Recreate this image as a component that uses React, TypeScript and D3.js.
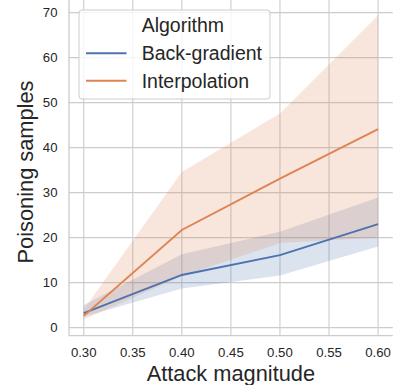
import React from "react";
import * as d3 from "d3";

// attack magnitude on x, poisoning samples on y
const attack = [0.3, 0.4, 0.5, 0.6];
const backGradMean = [3.2, 11.7, 16.1, 23.0];
const backGradLow = [2.4, 8.7, 11.6, 18.0];
const backGradHigh = [5.0, 16.3, 21.3, 28.9];
const interpMean = [2.6, 21.7, 33.1, 44.1];
const interpLow = [1.8, 11.4, 18.8, 20.0];
const interpHigh = [4.0, 34.6, 47.6, 69.4];

const xTicks = [0.3, 0.35, 0.4, 0.45, 0.5, 0.55, 0.6];
const yTicks = [0, 10, 20, 30, 40, 50, 60, 70];
const legendTitle = "Algorithm";
const seriesNames = ["Back-gradient", "Interpolation"];

const W = 395;
const H = 385;
const FONT = "'Liberation Sans', Arial, sans-serif";
const TEXT = "#262626";
const GRID = "#cccccc";
const colors = ["#4c72b0", "#dd8452"];

const App = () => {
  const left = 69;
  const right = 392.8;
  const top = 0;
  const bottom = 335.7;

  const x = d3.scaleLinear().domain([0.285, 0.615]).range([left, right]);
  const y = d3.scaleLinear().domain([-1.8, 72.8]).range([bottom, top]);

  const series = [
    { mean: backGradMean, low: backGradLow, high: backGradHigh },
    { mean: interpMean, low: interpLow, high: interpHigh },
  ];

  const line = d3.line<number>()
    .x((_, i) => x(attack[i]))
    .y(d => y(d));

  const band = (low: number[], high: number[]) =>
    d3.area<number>()
      .x((_, i) => x(attack[i]))
      .y0((_, i) => y(low[i]))
      .y1((_, i) => y(high[i]))(attack);

  return (
    <svg width={W} height={H} style={{ position: "absolute", left: 0, top: 0 }}>
      <rect width={W} height={H} fill="#fff" />
      {/* grid */}
      {xTicks.map(t => (
        <line key={"gx" + t} x1={x(t)} x2={x(t)} y1={top} y2={bottom}
          stroke={GRID} strokeWidth={1.1} />
      ))}
      {yTicks.map(t => (
        <line key={"gy" + t} x1={left} x2={right} y1={y(t)} y2={y(t)}
          stroke={GRID} strokeWidth={1.1} />
      ))}
      {/* spines */}
      <line x1={left} x2={left} y1={top} y2={bottom} stroke={GRID} strokeWidth={1.3} />
      <line x1={left} x2={right} y1={bottom} y2={bottom} stroke={GRID} strokeWidth={1.3} />

      {/* confidence bands, then lines on top */}
      {series.map((s, i) => (
        <path key={"b" + i} d={band(s.low, s.high) || ""} fill={colors[i]} fillOpacity={0.2} />
      ))}
      {series.map((s, i) => (
        <path key={"l" + i} d={line(s.mean) || ""} fill="none" stroke={colors[i]} strokeWidth={1.9} />
      ))}

      {/* tick labels */}
      {xTicks.map(t => (
        <text key={"tx" + t} x={x(t)} y={356.5} textAnchor="middle"
          fontFamily={FONT} fontSize={13.2} fill={TEXT}>{d3.format(".2f")(t)}</text>
      ))}
      {yTicks.map(t => (
        <text key={"ty" + t} x={57.5} y={y(t)} dy="0.35em" textAnchor="end"
          fontFamily={FONT} fontSize={13.2} fill={TEXT}>{t}</text>
      ))}

      {/* axis labels */}
      <text x={(left + right) / 2} y={380.6} textAnchor="middle"
        fontFamily={FONT} fontSize={21.8} fill={TEXT}>Attack magnitude</text>
      <text transform={`translate(32.8,172) rotate(-90)`} textAnchor="middle"
        fontFamily={FONT} fontSize={21.8} fill={TEXT}>Poisoning samples</text>

      {/* legend */}
      <rect x={79} y={10} width={191} height={89} rx={3} fill="#fff" fillOpacity={0.8}
        stroke={GRID} strokeWidth={1} />
      <text x={141.7} y={31.7} fontFamily={FONT} fontSize={19.5} fill={TEXT}>{legendTitle}</text>
      {seriesNames.map((name, i) => (
        <g key={name}>
          <line x1={86} x2={126.5} y1={53.3 + i * 27.5} y2={53.3 + i * 27.5}
            stroke={colors[i]} strokeWidth={1.9} />
          <text x={141.7} y={60 + i * 27.5} fontFamily={FONT} fontSize={19.5} fill={TEXT}>{name}</text>
        </g>
      ))}
    </svg>
  );
};

export default App;
